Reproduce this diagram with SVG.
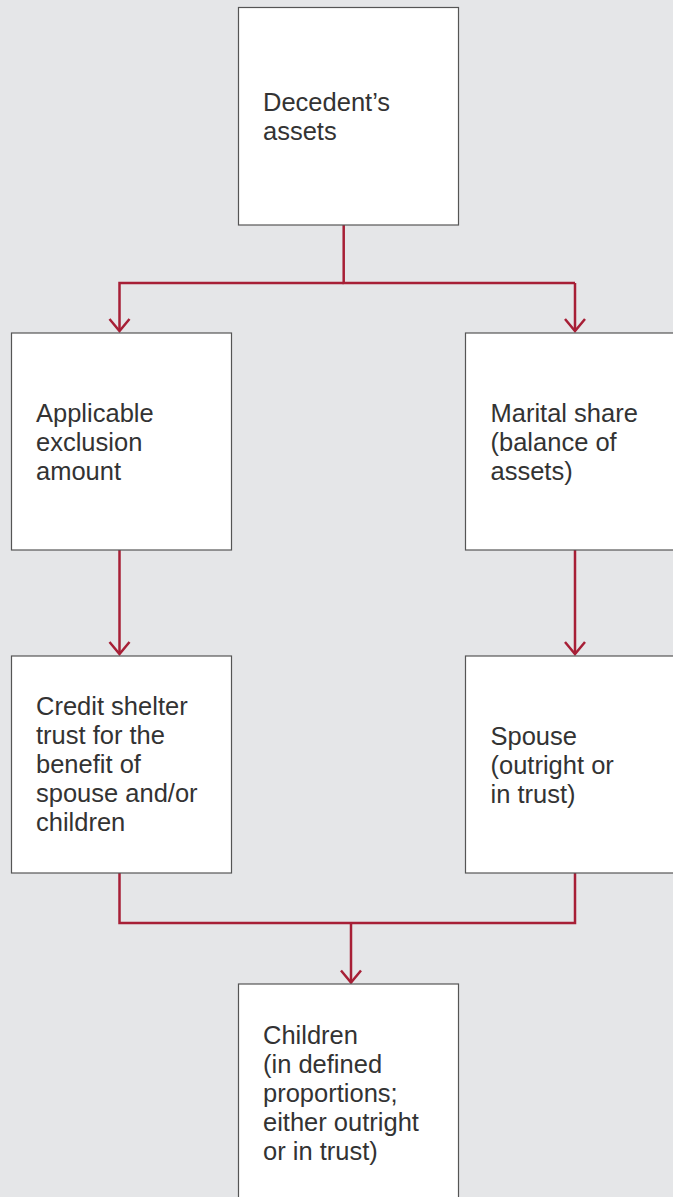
<svg xmlns="http://www.w3.org/2000/svg" width="673" height="1197" viewBox="0 0 673 1197">
  <style>
    .box { fill: #ffffff; stroke: #555555; stroke-width: 1.2; }
    .lbl { font-family: "Liberation Sans", Arial, sans-serif; font-size: 25.5px; fill: #333333; }
    .con { fill: none; stroke: #a71f36; stroke-width: 2.5; }
  </style>
  <defs>
    <marker id="arr" markerUnits="userSpaceOnUse" viewBox="-14 -12 16 24" markerWidth="16" markerHeight="24" refX="0" refY="0" orient="auto">
      <path d="M-12,-10 L0,0 L-12,10" fill="none" stroke="#a71f36" stroke-width="2.5"/>
    </marker>
  </defs>
  <rect x="0" y="0" width="673" height="1197" fill="#e5e6e8"/>

  <g id="connectors">
    <path class="con" d="M343.7,225 V283 H575"/>
    <path class="con" d="M343.7,283 H119.5 V331" marker-end="url(#arr)"/>
    <path class="con" d="M575,283 V331" marker-end="url(#arr)"/>
    <path class="con" d="M119.5,550 V654" marker-end="url(#arr)"/>
    <path class="con" d="M575,550 V654" marker-end="url(#arr)"/>
    <path class="con" d="M119.5,873 V923 H575 V873"/>
    <path class="con" d="M351,923 V982.5" marker-end="url(#arr)"/>
  </g>

  <g id="node-decedent">
    <rect class="box" x="238.5" y="7.5" width="220" height="217.5"/>
    <text class="lbl" x="263" y="111">Decedent’s</text>
    <text class="lbl" x="263" y="140">assets</text>
  </g>

  <g id="node-exclusion">
    <rect class="box" x="11.5" y="333" width="220" height="217"/>
    <text class="lbl" x="36" y="422">Applicable</text>
    <text class="lbl" x="36" y="451">exclusion</text>
    <text class="lbl" x="36" y="480">amount</text>
  </g>

  <g id="node-marital">
    <rect class="box" x="465.5" y="333" width="220" height="217"/>
    <text class="lbl" x="490.5" y="422">Marital share</text>
    <text class="lbl" x="490.5" y="451">(balance of</text>
    <text class="lbl" x="490.5" y="480">assets)</text>
  </g>

  <g id="node-credit-shelter">
    <rect class="box" x="11.5" y="656" width="220" height="217"/>
    <text class="lbl" x="36" y="715">Credit shelter</text>
    <text class="lbl" x="36" y="744">trust for the</text>
    <text class="lbl" x="36" y="773">benefit of</text>
    <text class="lbl" x="36" y="802">spouse and/or</text>
    <text class="lbl" x="36" y="831">children</text>
  </g>

  <g id="node-spouse">
    <rect class="box" x="465.5" y="656" width="220" height="217"/>
    <text class="lbl" x="490.5" y="745">Spouse</text>
    <text class="lbl" x="490.5" y="774">(outright or</text>
    <text class="lbl" x="490.5" y="803">in trust)</text>
  </g>

  <g id="node-children">
    <rect class="box" x="238.5" y="984" width="220" height="230"/>
    <text class="lbl" x="263" y="1044">Children</text>
    <text class="lbl" x="263" y="1073">(in defined</text>
    <text class="lbl" x="263" y="1102">proportions;</text>
    <text class="lbl" x="263" y="1131">either outright</text>
    <text class="lbl" x="263" y="1160">or in trust)</text>
  </g>
</svg>
